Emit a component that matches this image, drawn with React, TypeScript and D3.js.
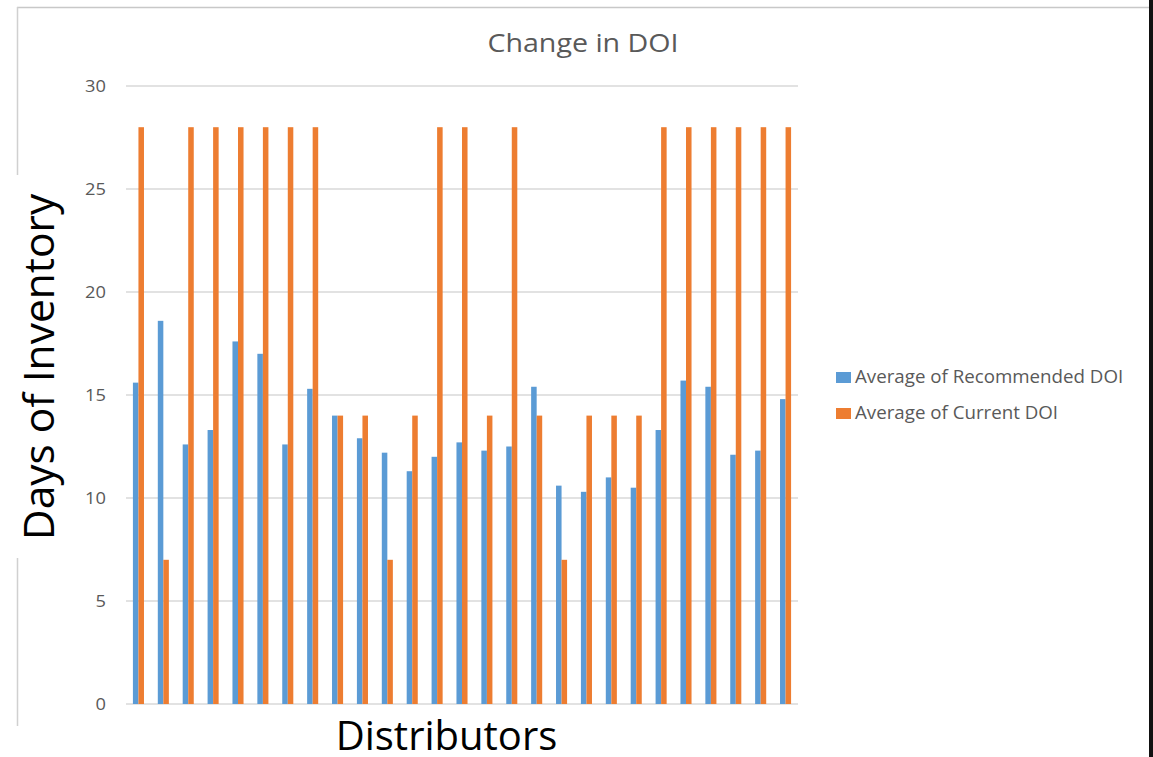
import React from "react";
import * as d3 from "d3";

const categories: string[] = Array.from({ length: 27 }, (_, i) => `Distributor ${i + 1}`);
const recommendedDOI: number[] = [15.6, 18.6, 12.6, 13.3, 17.6, 17.0, 12.6, 15.3, 14.0, 12.9, 12.2, 11.3, 12.0, 12.7, 12.3, 12.5, 15.4, 10.6, 10.3, 11.0, 10.5, 13.3, 15.7, 15.4, 12.1, 12.3, 14.8];
const currentDOI: number[] = [28, 7, 28, 28, 28, 28, 28, 28, 14, 14, 7, 14, 28, 28, 14, 28, 14, 7, 14, 14, 14, 28, 28, 28, 28, 28, 28];
const seriesNames: string[] = ["Average of Recommended DOI", "Average of Current DOI"];
const seriesColors: string[] = ["#5B9BD5", "#ED7D31"];
const yTicks: number[] = [0, 5, 10, 15, 20, 25, 30];

const W = 1153;
const H = 757;
const plot = { left: 126, right: 798, top: 86, bottom: 704 };

export default function App() {
  const x = d3.scaleBand<string>().domain(categories).range([plot.left, plot.right]).padding(0);
  const inner = d3
    .scaleBand<string>()
    .domain(seriesNames)
    .range([0, x.bandwidth()])
    .paddingInner(0)
    .paddingOuter(1.25);
  const y = d3.scaleLinear().domain([0, 30]).range([plot.bottom, plot.top]);
  const series = [recommendedDOI, currentDOI];
  const gray = "#595959";
  const font = "'Open Sans', 'Noto Sans', sans-serif";

  return (
    <div style={{ position: "absolute", left: 0, top: 0 }}>
      <svg width={W} height={H} style={{ display: "block", background: "#fff" }}>
        {/* chart border */}
        <line x1={17} x2={1149} y1={7.5} y2={7.5} stroke="#C8C8C8" strokeWidth={1.5} />
        <line x1={17.5} x2={17.5} y1={7} y2={726} stroke="#D0D0D0" strokeWidth={1.5} />
        <rect x={1149} y={0} width={4} height={H} fill="#111" />

        {/* title */}
        <text x={583} y={52} textAnchor="middle" fontFamily={font} fontSize={26} fill={gray}
          transform="translate(583,0) scale(1.1,1) translate(-583,0)">
          Change in DOI
        </text>

        {/* gridlines */}
        {yTicks.map((t) => (
          <line key={t} x1={plot.left} x2={plot.right} y1={y(t)} y2={y(t)} stroke="#D9D9D9" strokeWidth={1.5} />
        ))}
        {/* tick labels */}
        {yTicks.map((t) => (
          <text key={"l" + t} x={106} y={y(t)} dy="0.36em" textAnchor="end" fontFamily={font} fontSize={15.5} fill={gray}
            transform={`translate(106,0) scale(1.18,1) translate(-106,0)`}>
            {t}
          </text>
        ))}

        {/* bars */}
        {series.map((vals, s) =>
          vals.map((v, i) => (
            <rect
              key={`${s}-${i}`}
              x={(x(categories[i]) as number) + (inner(seriesNames[s]) as number)}
              y={y(v)}
              width={inner.bandwidth()}
              height={y(0) - y(v)}
              fill={seriesColors[s]}
            />
          ))
        )}

        {/* legend */}
        {seriesNames.map((n, i) => (
          <g key={n}>
            <rect x={836} y={372 + i * 36} width={15} height={11} fill={seriesColors[i]} />
            <text x={855} y={383.5 + i * 36} fontFamily={font} fontSize={17.5} fill={gray}
              transform="translate(855,0) scale(1.07,1) translate(-855,0)">
              {n}
            </text>
          </g>
        ))}

        {/* axis title boxes */}
        <rect x={10} y={175} width={55} height={383} fill="#fff" />
        <text
          transform="translate(54,367) rotate(-90)"
          textAnchor="middle"
          fontFamily={font}
          fontSize={42.5}
          fill="#000"
        >
          Days of Inventory
        </text>
        <text x={446.5} y={750} textAnchor="middle" fontFamily={font} fontSize={40} fill="#000">
          Distributors
        </text>
      </svg>
    </div>
  );
}
